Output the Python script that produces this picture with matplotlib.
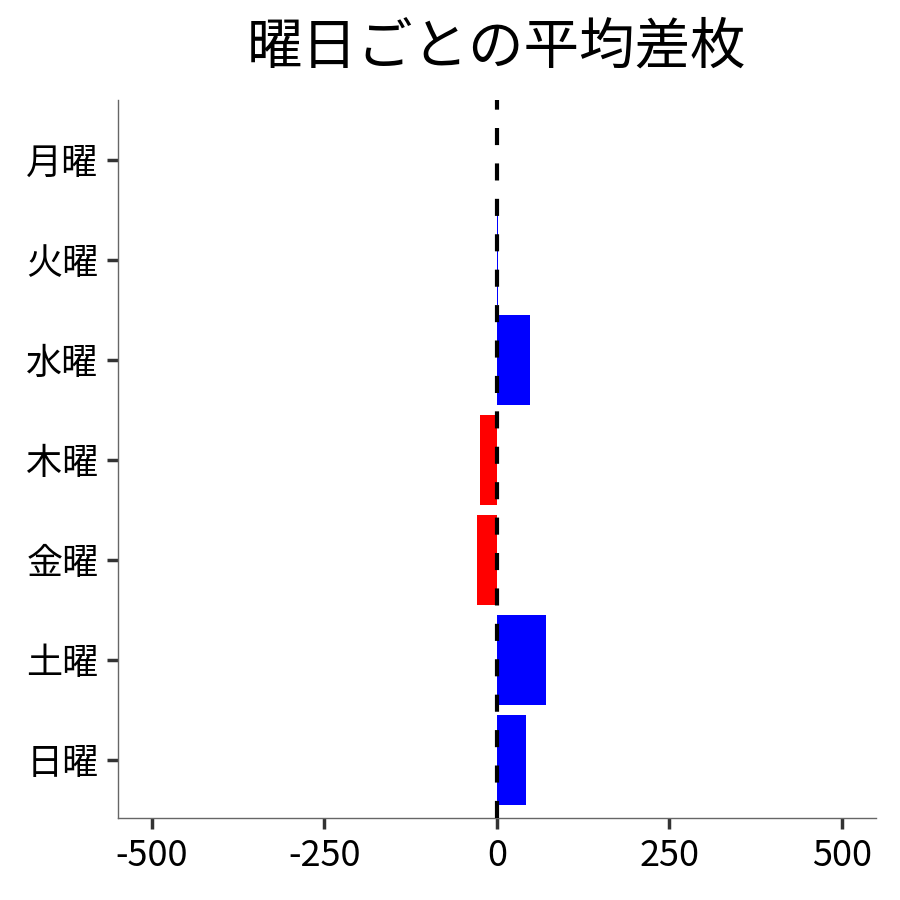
import numpy as np
import matplotlib
matplotlib.use("Agg")
import matplotlib.pyplot as plt

plt.rcParams['font.family'] = ['Noto Sans CJK JP', 'DejaVu Sans']
plt.rcParams['axes.unicode_minus'] = False

# data
days = ['月曜', '火曜', '水曜', '木曜', '金曜', '土曜', '日曜']
diffs = [0, 2, 48, -25, -29, 72, 42]
xticks = [-500, -250, 0, 250, 500]

colors = ['blue' if v >= 0 else 'red' for v in diffs]

fig = plt.figure(figsize=(9, 9), dpi=100)
ax = fig.add_axes([0.131, 0.091, 0.842, 0.798])

ypos = np.arange(len(days))
ax.barh(ypos, diffs, height=0.9, color=colors, zorder=2)
ax.axvline(0, color='black', lw=3, dashes=(4.1, 4.4), zorder=3)

ax.set_yticks(ypos)
ax.set_yticklabels(days)
ax.set_ylim(len(days) - 1 + 0.58, -0.6)
ax.set_xticks(xticks)
ax.set_xlim(-549, 549)

for s in ['top', 'right']:
    ax.spines[s].set_visible(False)
for s in ['left', 'bottom']:
    ax.spines[s].set_color('#666666')
    ax.spines[s].set_linewidth(1)

ax.tick_params(axis='both', labelsize=26, length=8, width=2.5, color='#333333', pad=6)
ax.set_title('曜日ごとの平均差枚', fontsize=40, pad=26)

fig.savefig('out.png', dpi=100)
